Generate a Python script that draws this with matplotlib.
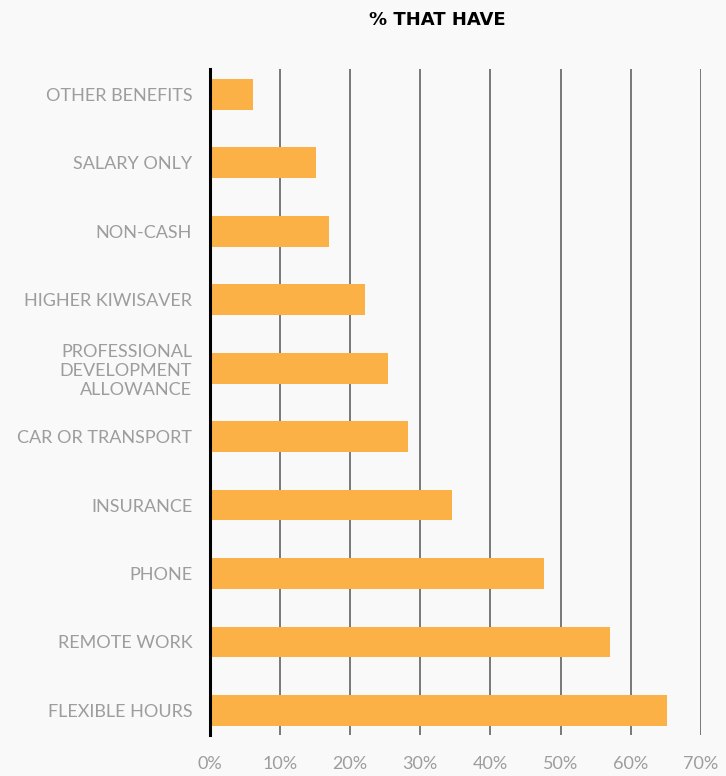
import matplotlib
matplotlib.use("Agg")
import matplotlib.pyplot as plt
import numpy as np

categories = ["OTHER BENEFITS", "SALARY ONLY", "NON-CASH", "HIGHER KIWISAVER",
              "PROFESSIONAL\nDEVELOPMENT\nALLOWANCE", "CAR OR TRANSPORT", "INSURANCE",
              "PHONE", "REMOTE WORK", "FLEXIBLE HOURS"]
values = [6.2, 15.1, 17.0, 22.1, 25.4, 28.3, 34.6, 47.6, 57.0, 65.2]
xticks = [0, 10, 20, 30, 40, 50, 60, 70]
xticklabels = ["0%", "10%", "20%", "30%", "40%", "50%", "60%", "70%"]
title = "% THAT HAVE"

W, H = 726, 776
fig = plt.figure(figsize=(W/100, H/100), dpi=100)
fig.patch.set_facecolor("#f9f9f9")
left, right = 209.5/W, 701/W
top, bottom = 1-69/H, 1-735/H
ax = fig.add_axes([left, bottom, right-left, top-bottom])
ax.set_facecolor("#f9f9f9")

lab_color = "#9d9d9d"
y = np.arange(len(categories))
ax.barh(y, values, height=0.45, color="#fbb145", zorder=3)
ax.set_xlim(0, 70)
ax.set_ylim(9.36, -0.37)
ax.set_yticks(y)
ax.set_yticklabels(categories, fontfamily="Lato", fontsize=13,
                   color=lab_color, linespacing=1.2)
for lab in ax.get_yticklabels():
    lab.set_horizontalalignment("right")
ax.set_xticks(xticks)
ax.set_xticklabels(xticklabels, fontfamily="Lato", fontsize=13, color=lab_color)
ax.tick_params(axis="y", length=0, pad=12.5)
ax.tick_params(axis="x", length=0, pad=15)
for x in xticks[1:]:
    ax.axvline(x, color="#555555", lw=1.1, zorder=1)
for s in ["top", "right", "bottom"]:
    ax.spines[s].set_visible(False)
ax.spines["left"].set_color("black")
ax.spines["left"].set_linewidth(2.2)
ax.spines["left"].set_zorder(4)

fig.text(437/W, 1-20/H, title, ha="center", va="center", fontfamily="DejaVu Sans",
         fontweight="bold", fontsize=13, color="black")

fig.savefig("out.png", dpi=100, facecolor=fig.get_facecolor())
